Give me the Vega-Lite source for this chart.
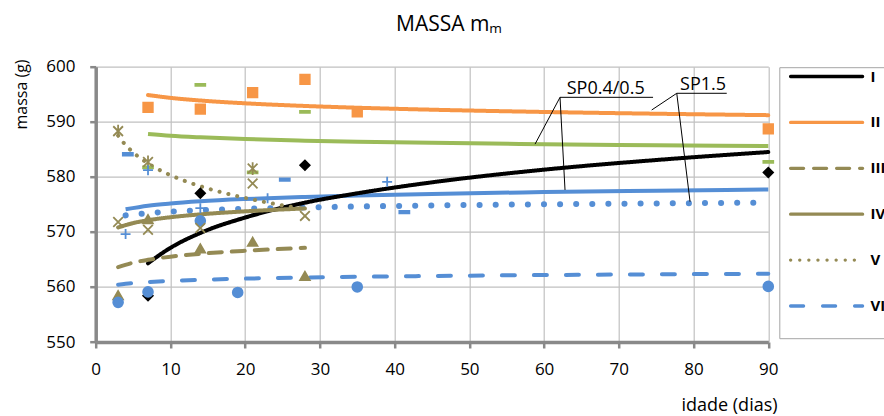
{
  "$schema": "https://vega.github.io/schema/vega-lite/v6.json",
  "width": 672.6,
  "height": 275.3,
  "autosize": {"type": "none"},
  "padding": {"left": 95.7, "top": 66.7, "right": 115.7, "bottom": 74},
  "background": "white",
  "title": {"text": "MASSA mₘ", "anchor": "middle", "frame": "group", "dx": 17, "dy": 32, "fontSize": 21, "fontWeight": "normal", "font": "Open Sans", "color": "#000000", "baseline": "alphabetic", "offset": 37.4},
  "config": {
    "font": "Open Sans",
    "view": {"stroke": null},
    "axis": {"gridColor": "#c0c0c0", "gridWidth": 1.2, "domainColor": "#898989", "domainWidth": 3.5, "tickColor": "#898989", "tickWidth": 2.5, "tickSize": 6, "labelColor": "#000000", "labelFontSize": 17, "titleColor": "#000000", "titleFontWeight": "normal"}
  },
  "datasets": {
    "tl": [
      {"s": "I", "x": 7, "y": 564.3}, {"s": "I", "x": 10, "y": 567.1}, {"s": "I", "x": 14, "y": 569.8}, {"s": "I", "x": 20, "y": 572.6}, {"s": "I", "x": 28, "y": 575.3}, {"s": "I", "x": 35, "y": 577.0}, {"s": "I", "x": 45, "y": 579.0}, {"s": "I", "x": 60, "y": 581.3}, {"s": "I", "x": 75, "y": 583.05}, {"s": "I", "x": 90, "y": 584.5},
      {"s": "II", "x": 7, "y": 594.85}, {"s": "II", "x": 10, "y": 594.34}, {"s": "II", "x": 14, "y": 593.86}, {"s": "II", "x": 20, "y": 593.35}, {"s": "II", "x": 28, "y": 592.87}, {"s": "II", "x": 35, "y": 592.55}, {"s": "II", "x": 45, "y": 592.19}, {"s": "II", "x": 60, "y": 591.78}, {"s": "II", "x": 75, "y": 591.46}, {"s": "II", "x": 90, "y": 591.2},
      {"s": "III", "x": 3, "y": 563.6}, {"s": "III", "x": 5, "y": 564.4}, {"s": "III", "x": 7, "y": 564.93}, {"s": "III", "x": 10, "y": 565.49}, {"s": "III", "x": 14, "y": 566.02}, {"s": "III", "x": 20, "y": 566.57}, {"s": "III", "x": 28, "y": 567.1},
      {"s": "IV", "x": 3, "y": 570.8}, {"s": "IV", "x": 5, "y": 571.59}, {"s": "IV", "x": 7, "y": 572.11}, {"s": "IV", "x": 10, "y": 572.66}, {"s": "IV", "x": 14, "y": 573.18}, {"s": "IV", "x": 20, "y": 573.73}, {"s": "IV", "x": 28, "y": 574.25},
      {"s": "V", "x": 3, "y": 587.5}, {"s": "V", "x": 3.5, "y": 586.58}, {"s": "V", "x": 4, "y": 585.78}, {"s": "V", "x": 5, "y": 584.45}, {"s": "V", "x": 6, "y": 583.36}, {"s": "V", "x": 7, "y": 582.43}, {"s": "V", "x": 8, "y": 581.64}, {"s": "V", "x": 10, "y": 580.3}, {"s": "V", "x": 12, "y": 579.21}, {"s": "V", "x": 14, "y": 578.29}, {"s": "V", "x": 17, "y": 577.13}, {"s": "V", "x": 20, "y": 576.16}, {"s": "V", "x": 24, "y": 575.07}, {"s": "V", "x": 28, "y": 574.14},
      {"s": "VI", "x": 3, "y": 560.4}, {"s": "VI", "x": 5, "y": 560.7}, {"s": "VI", "x": 7, "y": 560.89}, {"s": "VI", "x": 10, "y": 561.1}, {"s": "VI", "x": 14, "y": 561.3}, {"s": "VI", "x": 20, "y": 561.51}, {"s": "VI", "x": 28, "y": 561.71}, {"s": "VI", "x": 35, "y": 561.84}, {"s": "VI", "x": 45, "y": 561.99}, {"s": "VI", "x": 60, "y": 562.16}, {"s": "VI", "x": 75, "y": 562.29}, {"s": "VI", "x": 90, "y": 562.4}
    ],
    "green": [
      {"x": 7, "y": 587.76}, {"x": 10, "y": 587.45}, {"x": 14, "y": 587.17}, {"x": 20, "y": 586.86}, {"x": 28, "y": 586.57}, {"x": 35, "y": 586.38}, {"x": 45, "y": 586.17}, {"x": 60, "y": 585.92}, {"x": 75, "y": 585.73}, {"x": 90, "y": 585.58}
    ],
    "blue": [
      {"x": 4, "y": 574.1}, {"x": 7, "y": 574.75}, {"x": 10, "y": 575.16}, {"x": 14, "y": 575.55}, {"x": 20, "y": 575.96}, {"x": 28, "y": 576.35}, {"x": 35, "y": 576.61}, {"x": 45, "y": 576.9}, {"x": 60, "y": 577.23}, {"x": 75, "y": 577.49}, {"x": 90, "y": 577.7}
    ],
    "bluedot": [
      {"x": 4, "y": 573.0}, {"x": 7, "y": 573.41}, {"x": 10, "y": 573.68}, {"x": 14, "y": 573.93}, {"x": 20, "y": 574.19}, {"x": 28, "y": 574.44}, {"x": 35, "y": 574.61}, {"x": 45, "y": 574.8}, {"x": 60, "y": 575.01}, {"x": 75, "y": 575.17}, {"x": 90, "y": 575.31}
    ],
    "pts": [
      {"m": "I", "x": 7, "y": 558.4}, {"m": "I", "x": 14, "y": 577}, {"m": "I", "x": 28, "y": 582.1}, {"m": "I", "x": 90, "y": 580.8},
      {"m": "II", "x": 7, "y": 592.6}, {"m": "II", "x": 14, "y": 592.3}, {"m": "II", "x": 21, "y": 595.3}, {"m": "II", "x": 28, "y": 597.7}, {"m": "II", "x": 35, "y": 591.8}, {"m": "II", "x": 90, "y": 588.7},
      {"m": "III", "x": 3, "y": 558.5}, {"m": "III", "x": 7, "y": 572.3}, {"m": "III", "x": 14, "y": 567}, {"m": "III", "x": 21, "y": 568.2}, {"m": "III", "x": 28, "y": 562},
      {"m": "VI", "x": 3, "y": 557.2}, {"m": "VI", "x": 7, "y": 559.1}, {"m": "VI", "x": 14, "y": 572}, {"m": "VI", "x": 19, "y": 559}, {"m": "VI", "x": 35, "y": 560}, {"m": "VI", "x": 90, "y": 560.1},
      {"m": "IV", "x": 3, "y": 571.8}, {"m": "IV", "x": 7, "y": 570.4}, {"m": "IV", "x": 14, "y": 570.7}, {"m": "IV", "x": 21, "y": 578.8}, {"m": "IV", "x": 28, "y": 572.9},
      {"m": "g", "x": 7, "y": 581.7}, {"m": "g", "x": 14, "y": 596.7}, {"m": "g", "x": 21, "y": 580.8}, {"m": "g", "x": 28, "y": 591.8}, {"m": "g", "x": 90, "y": 582.7},
      {"m": "V", "x": 3, "y": 588.3}, {"m": "V", "x": 7, "y": 582.7}, {"m": "V", "x": 21, "y": 581.5},
      {"m": "b", "x": 4, "y": 569.6}, {"m": "b", "x": 7, "y": 581.2}, {"m": "b", "x": 14, "y": 574.3}, {"m": "b", "x": 23, "y": 576.1}, {"m": "b", "x": 39, "y": 579.1},
      {"m": "bd", "x": 4.3, "y": 584.1}, {"m": "bd", "x": 25.3, "y": 579.5}, {"m": "bd", "x": 41.3, "y": 573.6}
    ],
    "leaders": [
      {"x": 62.13, "y": 594.44, "x2": 74.58, "y2": 594.44},
      {"x": 62.13, "y": 594.44, "x2": 58.79, "y2": 585.94},
      {"x": 62.13, "y": 594.44, "x2": 62.8, "y2": 577.61},
      {"x": 77.75, "y": 595.17, "x2": 84.44, "y2": 595.17},
      {"x": 77.75, "y": 595.17, "x2": 74.4, "y2": 592.14},
      {"x": 77.75, "y": 595.17, "x2": 79.53, "y2": 575.48}
    ],
    "labels": [
      {"x": 63.03, "y": 595.12, "t": "SP0.4/0.5"},
      {"x": 78.2, "y": 595.77, "t": "SP1.5"}
    ]
  },
  "layer": [
    {
      "data": {"name": "green"},
      "mark": {"type": "line", "color": "#9bbb59", "strokeWidth": 4, "interpolate": "monotone"},
      "encoding": {
        "x": {"field": "x", "type": "quantitative", "scale": {"domain": [0, 90], "nice": false}, "axis": {"title": "idade (dias)", "values": [0, 10, 20, 30, 40, 50, 60, 70, 80, 90], "labelPadding": 13.5, "labelFlush": false, "titleFontSize": 18, "titleX": 633.3, "titleY": 68, "titleAlign": "center", "titleBaseline": "alphabetic"}},
        "y": {"field": "y", "type": "quantitative", "scale": {"domain": [550, 600], "nice": false}, "axis": {"title": "massa (g)", "values": [550, 560, 570, 580, 590, 600], "labelPadding": 14.7, "titleFontSize": 16, "titleX": -74.2, "titleY": 27.3, "titleAngle": 270, "titleAlign": "center", "titleBaseline": "middle"}}
      }
    },
    {
      "data": {"name": "blue"},
      "mark": {"type": "line", "color": "#558ed5", "strokeWidth": 4, "interpolate": "monotone"},
      "encoding": {"x": {"field": "x", "type": "quantitative"}, "y": {"field": "y", "type": "quantitative"}}
    },
    {
      "data": {"name": "bluedot"},
      "mark": {"type": "line", "color": "#558ed5", "strokeWidth": 6, "strokeCap": "round", "strokeDash": [0.1, 16], "interpolate": "monotone"},
      "encoding": {"x": {"field": "x", "type": "quantitative"}, "y": {"field": "y", "type": "quantitative"}}
    },
    {
      "data": {"name": "tl"},
      "mark": {"type": "line", "strokeWidth": 4, "strokeCap": "round", "interpolate": "monotone"},
      "encoding": {
        "x": {"field": "x", "type": "quantitative"},
        "y": {"field": "y", "type": "quantitative"},
        "color": {"field": "s", "type": "nominal", "scale": {"domain": ["I", "II", "III", "IV", "V", "VI"], "range": ["#000000", "#f79646", "#948a54", "#948a54", "#948a54", "#558ed5"]},
          "legend": {"orient": "none", "legendX": 683.6, "legendY": 0.5, "title": " ", "titleOrient": "bottom", "titleFontSize": 10, "titlePadding": 12, "symbolType": "stroke", "symbolSize": 5184, "symbolStrokeWidth": 3.3, "labelFontSize": 15, "labelFontWeight": "bold", "labelColor": "#000000", "padding": 1.3, "clipHeight": 16, "rowPadding": 29.9, "symbolOffset": 8, "labelOffset": 6, "strokeColor": "#a6a6a6", "fillColor": "white", "labelLimit": 100, "encode": {"symbols": {"update": {"strokeCap": {"value": "round"}}}}}},
        "strokeDash": {"field": "s", "type": "nominal", "scale": {"domain": ["I", "II", "III", "IV", "V", "VI"], "range": [[1, 0], [1, 0], [13, 10], [1, 0], [0.1, 9], [13, 19]]},
          "legend": {"orient": "none", "legendX": 683.6, "legendY": 0.5, "title": " ", "titleOrient": "bottom", "titleFontSize": 10, "titlePadding": 12, "symbolType": "stroke", "symbolSize": 5184, "symbolStrokeWidth": 3.3, "labelFontSize": 15, "labelFontWeight": "bold", "labelColor": "#000000", "padding": 1.3, "clipHeight": 16, "rowPadding": 29.9, "symbolOffset": 8, "labelOffset": 6, "strokeColor": "#a6a6a6", "fillColor": "white", "labelLimit": 100, "encode": {"symbols": {"update": {"strokeCap": {"value": "round"}}}}}}
      }
    },
    {
      "data": {"name": "pts"},
      "mark": {"type": "point", "filled": true, "opacity": 1, "strokeWidth": 1.8},
      "encoding": {
        "x": {"field": "x", "type": "quantitative"},
        "y": {"field": "y", "type": "quantitative"},
        "shape": {"field": "m", "type": "nominal", "scale": {"domain": ["I", "II", "III", "IV", "V", "VI", "g", "b", "bd"], "range": ["diamond", "square", "triangle-up", "M-1,-1L1,1M-1,1L1,-1", "M-1,-1L1,1M-1,1L1,-1M0,-1.3L0,1.3", "circle", "M-1,-0.2L1,-0.2L1,0.2L-1,0.2Z", "M-1,0L1,0M0,-1L0,1", "M-1,-0.25L1,-0.25L1,0.25L-1,0.25Z"]}, "legend": null},
        "fill": {"field": "m", "type": "nominal", "scale": {"domain": ["I", "II", "III", "IV", "V", "VI", "g", "b", "bd"], "range": ["#000000", "#f79646", "#948a54", "#948a54", "#948a54", "#558ed5", "#9bbb59", "#558ed5", "#558ed5"]}, "legend": null},
        "stroke": {"field": "m", "type": "nominal", "scale": {"domain": ["I", "II", "III", "IV", "V", "VI", "g", "b", "bd"], "range": ["#000000", "#f79646", "#948a54", "#948a54", "#948a54", "#558ed5", "#9bbb59", "#558ed5", "#558ed5"]}, "legend": null},
        "size": {"field": "m", "type": "ordinal", "scale": {"domain": ["I", "II", "III", "IV", "V", "VI", "g", "b", "bd"], "range": [90, 100, 100, 260, 140, 110, 81, 300, 36]}, "legend": null}
      }
    },
    {
      "data": {"name": "leaders"},
      "mark": {"type": "rule", "color": "#000000", "strokeWidth": 1},
      "encoding": {"x": {"field": "x", "type": "quantitative"}, "y": {"field": "y", "type": "quantitative"}, "x2": {"field": "x2"}, "y2": {"field": "y2"}}
    },
    {
      "data": {"name": "labels"},
      "mark": {"type": "text", "align": "left", "baseline": "alphabetic", "fontSize": 18, "color": "#000000"},
      "encoding": {"x": {"field": "x", "type": "quantitative"}, "y": {"field": "y", "type": "quantitative"}, "text": {"field": "t"}}
    }
  ]
}
